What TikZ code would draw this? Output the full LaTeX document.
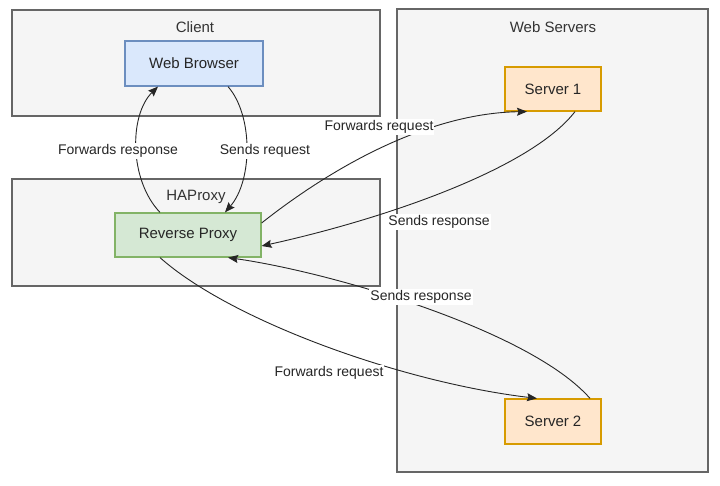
\documentclass[tikz,border=0pt]{standalone}
\usepackage{fontspec}
\setmainfont{Liberation Sans}
\usetikzlibrary{arrows.meta,calc}
\definecolor{grpfill}{HTML}{F5F5F5}
\definecolor{grpline}{HTML}{666666}
\definecolor{grptext}{HTML}{333333}
\definecolor{bluefill}{HTML}{DAE8FC}
\definecolor{blueline}{HTML}{6C8EBF}
\definecolor{greenfill}{HTML}{D5E8D4}
\definecolor{greenline}{HTML}{82B366}
\definecolor{orangefill}{HTML}{FFE6CC}
\definecolor{orangeline}{HTML}{D79B00}
\tikzset{
  grp/.style={draw=grpline, fill=grpfill, line width=1.3pt, rectangle, inner sep=0pt},
  grptitle/.style={text=grptext, font=\fontsize{15}{17}\selectfont},
  box/.style={rectangle, line width=1.2pt, inner sep=0pt, font=\fontsize{15}{17}\selectfont, text=black!85},
  bluebox/.style={box, draw=blueline, fill=bluefill},
  greenbox/.style={box, draw=greenline, fill=greenfill},
  orangebox/.style={box, draw=orangeline, fill=orangefill},
  conn/.style={draw=black!85, line width=0.9pt, -{Stealth[inset=1.5pt,length=10pt,width=8pt]}},
  elabel/.style={fill=white, inner sep=1pt, font=\fontsize{14}{16}\selectfont, text=black!85}
}
\begin{document}
\begin{tikzpicture}[x=1pt,y=-1pt]
\useasboundingbox (0,0) rectangle (720,486);
\fill[white] (0,0) rectangle (720,486);
% groups
\node[grp, minimum width=368pt, minimum height=106pt] (client) at (196,63) {};
\node[grp, minimum width=368pt, minimum height=107pt] (haproxy) at (196,232.5) {};
\node[grp, minimum width=311pt, minimum height=463pt] (servers) at (552.5,240.5) {};
\node[grptitle] (clientT) at (195,27) {Client};
\node[grptitle] (haproxyT) at (196,197) {HAProxy};
\node[grptitle] (serversT) at (553,27) {Web Servers};
% nodes
\node[bluebox, minimum width=138pt, minimum height=45pt] (wb) at (194,63.5) {Web Browser};
\node[greenbox, minimum width=146pt, minimum height=44pt] (rp) at (188,235) {Reverse Proxy};
\node[orangebox, minimum width=96pt, minimum height=44pt] (s1) at (553,89) {Server 1};
\node[orangebox, minimum width=96pt, minimum height=45pt] (s2) at (553,421.5) {Server 2};
% connectors
\draw[conn] ($(wb.south)+(34,0)$) .. controls (253,115) and (253,180) .. ($(rp.north)+(37,0)$);
\draw[conn] ($(rp.north)+(-28,0)$) .. controls (129,180) and (129,115) .. ($(wb.south)+(-36,0)$);
\draw[conn] ($(rp.east)+(0,-12)$) .. controls (335,165) and (430,113) .. ($(s1.south)+(-26,0)$);
\draw[conn] ($(s1.south)+(22,0)$) .. controls (530,170) and (380,220) .. ($(rp.east)+(0,11)$);
\draw[conn] ($(s2.north)+(37,0)$) .. controls (530,330) and (330,272) .. ($(rp.south)+(40,0)$);
\draw[conn] ($(rp.south)+(-28,0)$) .. controls (230,320) and (400,382) .. ($(s2.north)+(-16,0)$);
% labels
\node[elabel] (l1) at (265,151) {Sends request};
\node[elabel] (l2) at (118,151) {Forwards response};
\node[elabel] (l3) at (379,127) {Forwards request};
\node[elabel] (l4) at (439,222) {Sends response};
\node[elabel] (l5) at (421,297) {Sends response};
\node[elabel] (l6) at (329,373) {Forwards request};
\end{tikzpicture}
\end{document}
